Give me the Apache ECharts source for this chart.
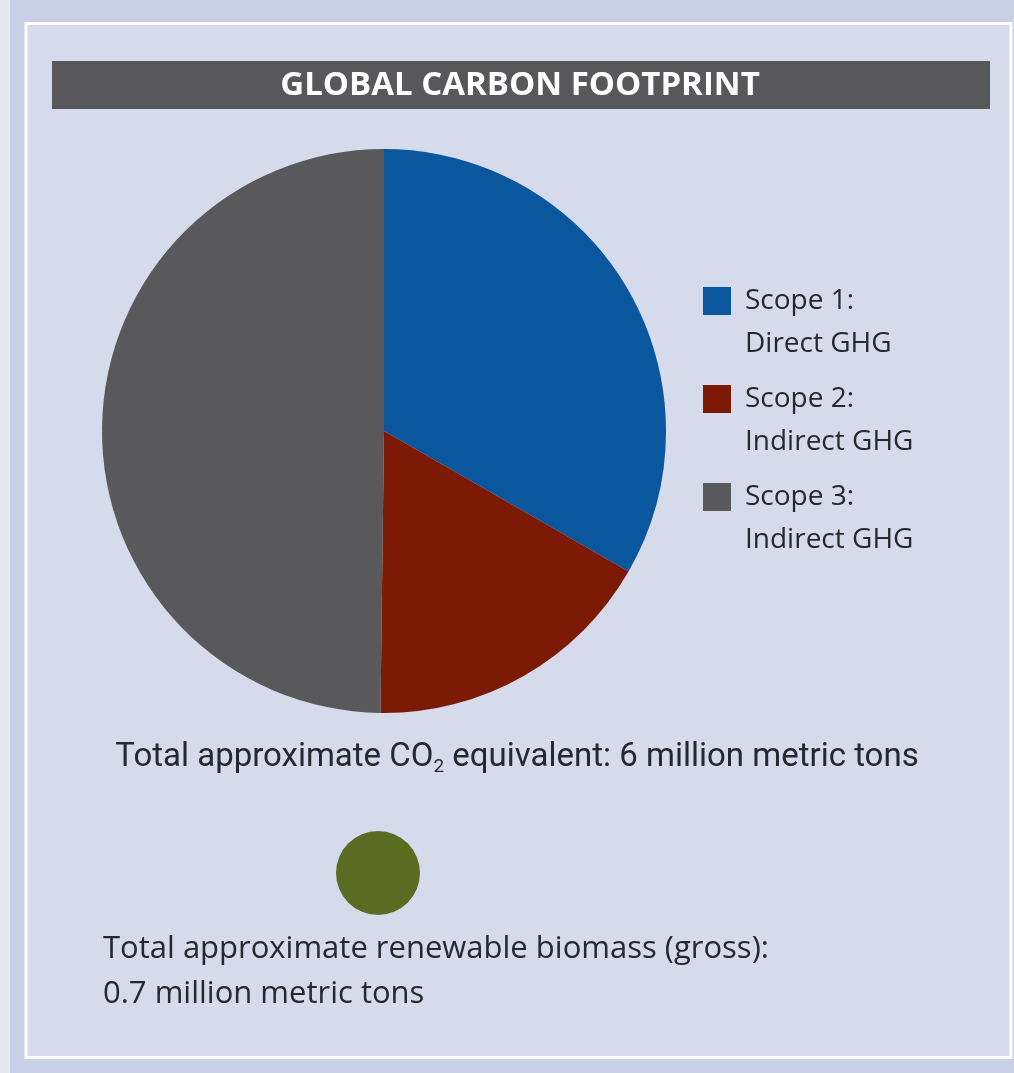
<!DOCTYPE html>
<html>
<head>
<meta charset="utf-8">
<script src="https://cdn.jsdelivr.net/npm/echarts@6/dist/echarts.min.js"></script>
<style>
html,body{margin:0;padding:0;background:#c8d0e6;}
#chart{width:1014px;height:1073px;}
</style>
</head>
<body>
<div id="chart"></div>
<script>
// ---- data ----
const titleText = 'GLOBAL CARBON FOOTPRINT';
const scopeNames = ['Scope 1: Direct GHG', 'Scope 2: Indirect GHG', 'Scope 3: Indirect GHG'];
const scopeShares = [33.3, 16.9, 49.8];           // percent of total
const scopeColors = ['#0b579d', '#7c1a06', '#59595b'];
const totalCO2 = 6;        // million metric tons
const biomassTotal = 0.7;  // million metric tons
const biomassName = 'Renewable biomass (gross)';

const chart = echarts.init(document.getElementById('chart'), null, {renderer: 'canvas'});

const pieData = scopeNames.map((n, i) => ({name: n, value: scopeShares[i], itemStyle: {color: scopeColors[i]}}));

const option = {
  backgroundColor: '#c8d0e6',
  animation: false,
  legend: {
    data: scopeNames,
    orient: 'vertical',
    left: 703,
    top: 279.5,
    padding: 0,
    itemWidth: 28,
    itemHeight: 86,
    itemGap: 12,
    selectedMode: false,
    icon: 'path://M0,7.5h28v28h-28z M0,0h0.01v0.01h-0.01z M0,86h0.01v0.01h-0.01z',
    formatter: n => n.replace(': ', ':\n'),
    textStyle: {
      fontFamily: 'Open Sans',
      fontSize: 28,
      lineHeight: 43,
      color: '#262830',
      padding: [0, 0, 0, 9]
    }
  },
  graphic: [
    {type: 'rect', silent: true, z: -10, shape: {x: 0, y: 0, width: 10, height: 1073}, style: {fill: '#e4e8f3'}},
    {type: 'rect', silent: true, z: -9, shape: {x: 26, y: 23.5, width: 985, height: 1034}, style: {fill: '#d5dbeb', stroke: '#ffffff', lineWidth: 3}},
    {type: 'rect', silent: true, z: -8, shape: {x: 52, y: 61, width: 938, height: 48}, style: {fill: '#58585a'}},
    {type: 'text', silent: true, x: 520, y: 86, style: {
      text: titleText, fill: '#ffffff', font: 'bold 33px "Open Sans"', align: 'center', verticalAlign: 'middle'
    }},
    {type: 'text', silent: true, x: 517, y: 758, style: {
      text: 'Total approximate CO{sub|2} equivalent: ' + totalCO2 + ' million metric tons',
      fill: '#262830', fontFamily: 'Roboto', fontSize: 33, align: 'center', verticalAlign: 'middle',
      rich: {sub: {fontFamily: 'Roboto', fontSize: 19, fill: '#262830', padding: [18, 0, 0, 0]}}
    }},
    {type: 'text', silent: true, x: 103, y: 927, style: {
      text: 'Total approximate renewable biomass (gross):\n' + biomassTotal + ' million metric tons',
      fill: '#262830', fontFamily: 'Open Sans', fontSize: 31, lineHeight: 45, align: 'left', verticalAlign: 'top'
    }}
  ],
  series: [
    {
      type: 'pie',
      center: [384, 431],
      radius: 282,
      startAngle: 90,
      clockwise: true,
      silent: true,
      label: {show: false},
      labelLine: {show: false},
      itemStyle: {borderWidth: 0},
      emphasis: {disabled: true},
      data: pieData
    },
    {
      type: 'pie',
      center: [378, 873],
      radius: 42,
      silent: true,
      label: {show: false},
      labelLine: {show: false},
      emphasis: {disabled: true},
      data: [{name: biomassName, value: biomassTotal, itemStyle: {color: '#5b6b22'}}]
    }
  ]
};
chart.setOption(option);
</script>
</body>
</html>
